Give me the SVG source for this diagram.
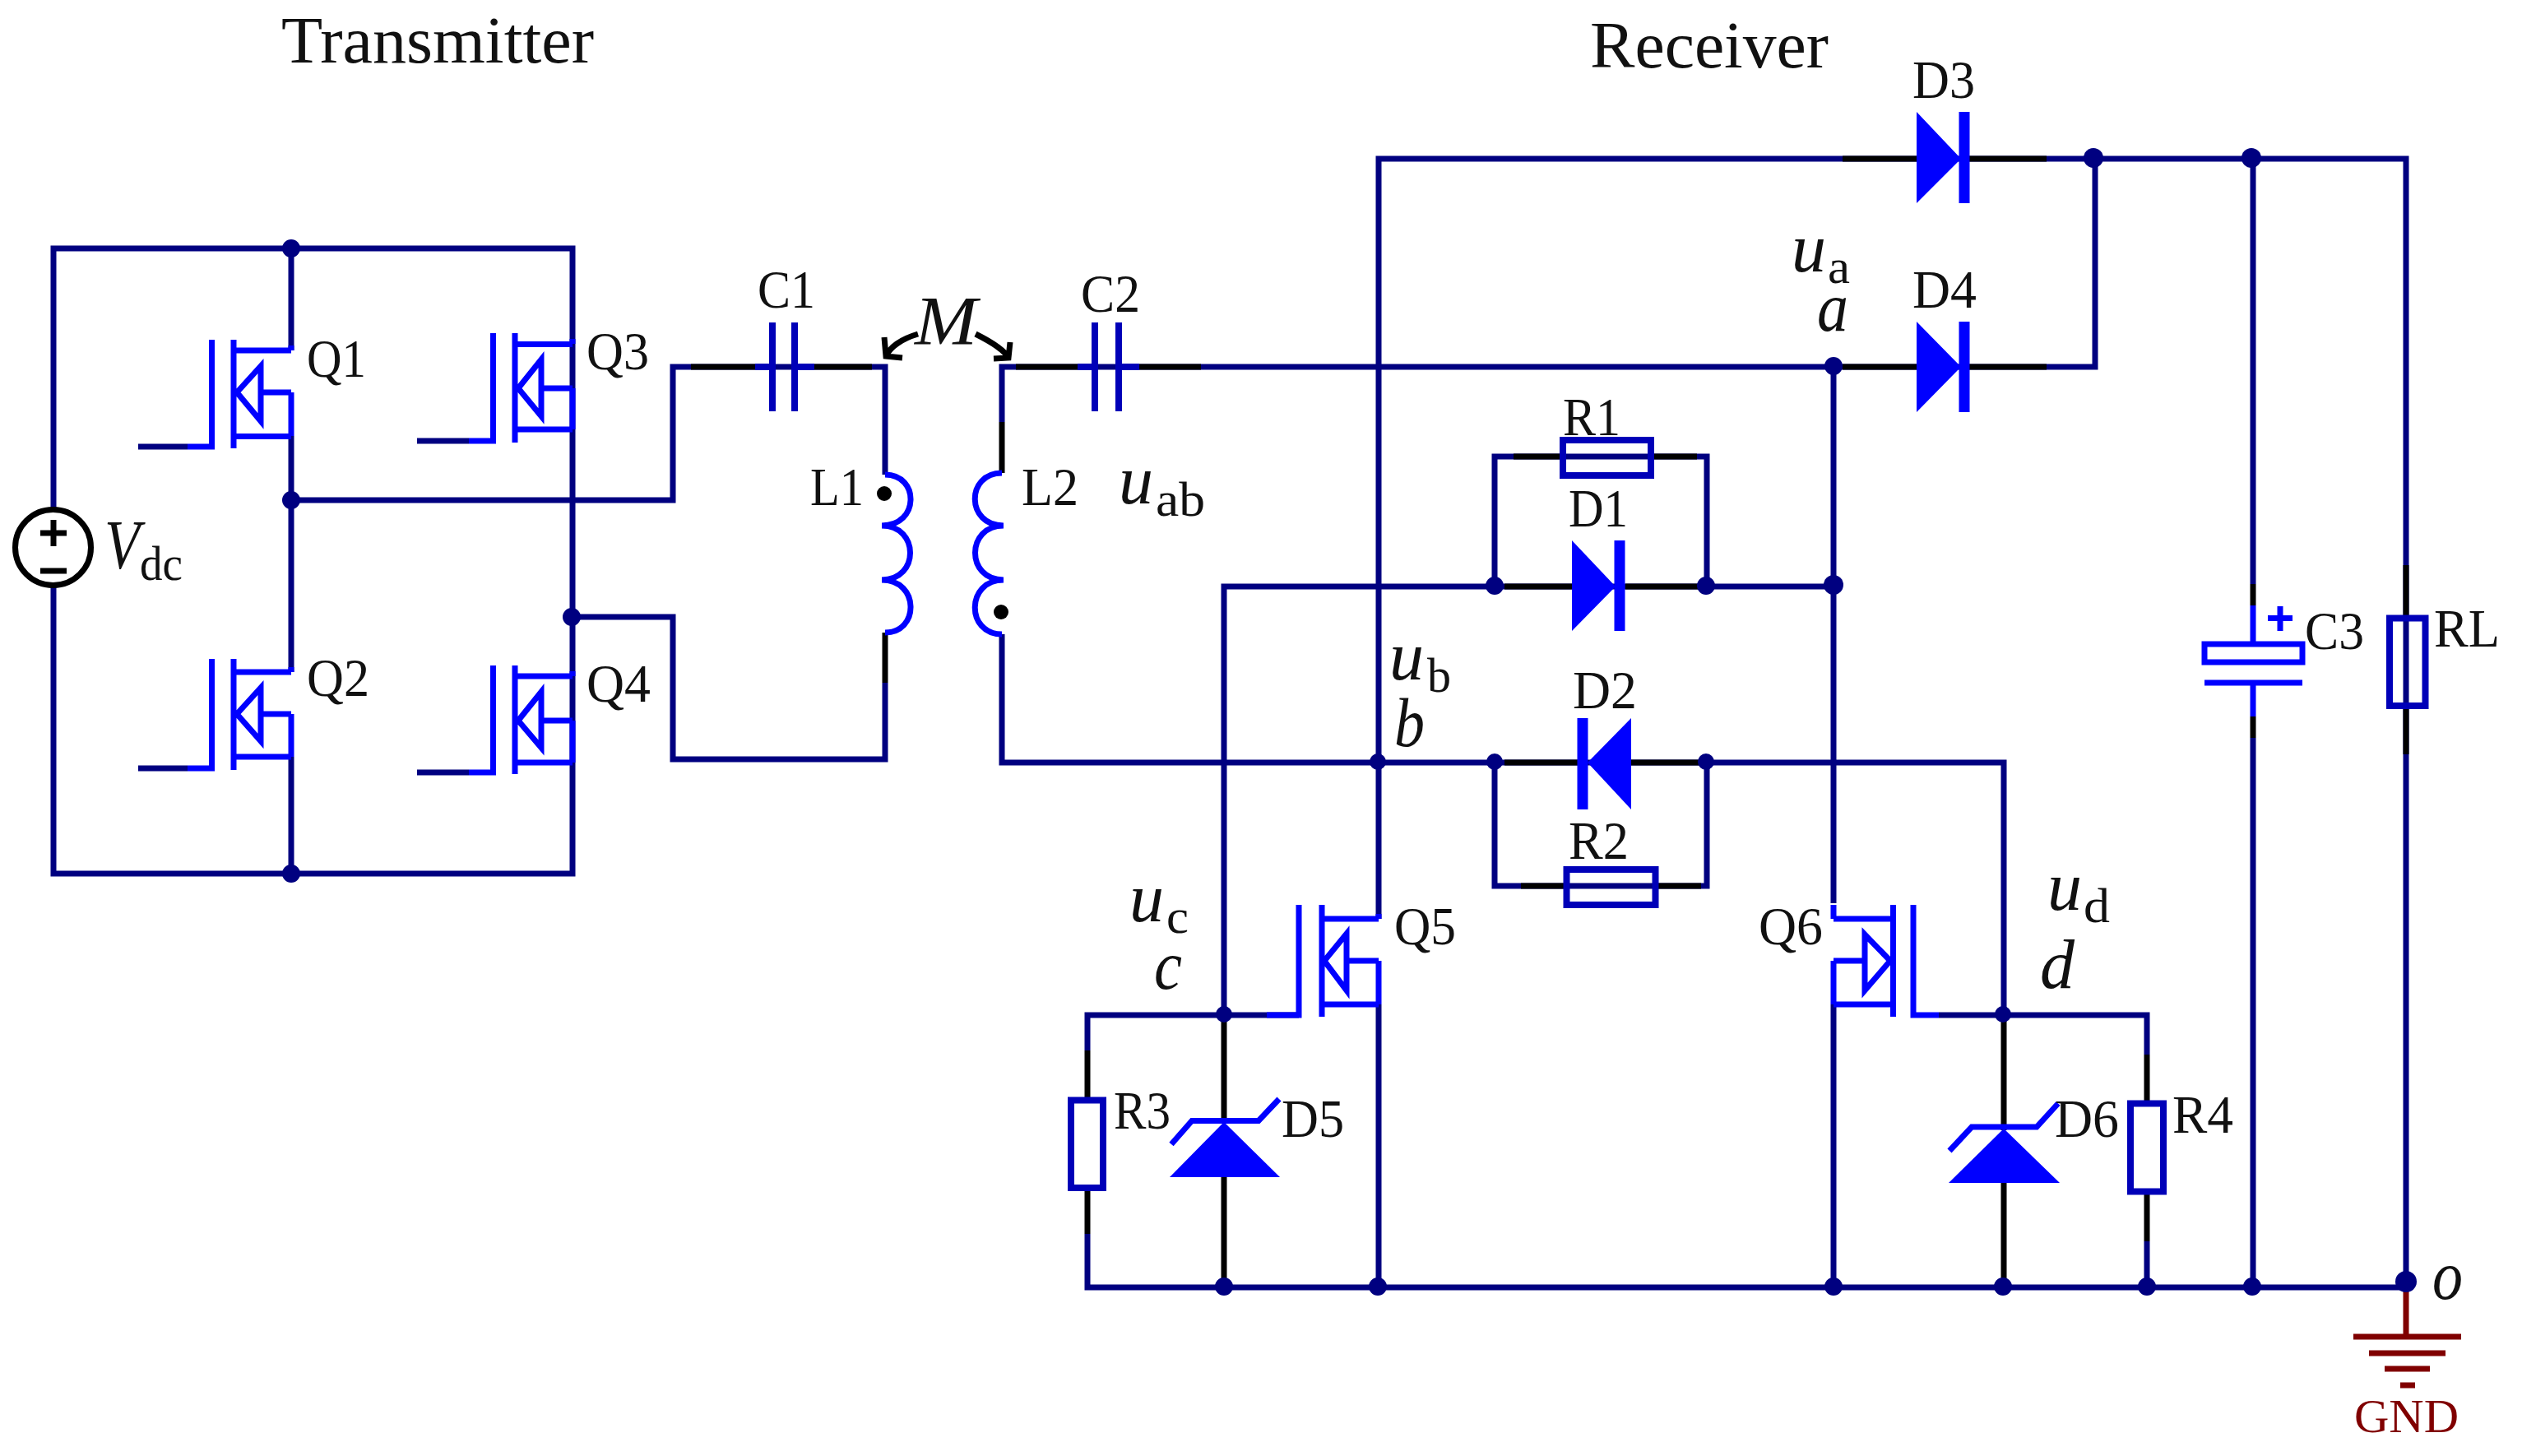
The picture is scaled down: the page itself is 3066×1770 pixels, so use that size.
<svg xmlns="http://www.w3.org/2000/svg" width="3066" height="1770" viewBox="0 0 3066 1770">
<style>
.w,.k,.b,.c,.r,.a{fill:none;stroke-width:7;stroke-linejoin:miter}
.w{stroke:#000080}
.k{stroke:#000}
.b{stroke:#0000ff}
.c{stroke:#0000b8;stroke-width:8}
.r{stroke:#800000;stroke-width:7}
.a{stroke:#000;stroke-width:7}
.df{fill:#0000ff;stroke:none}
.dt{fill:#000080;stroke:none}
.bar{stroke:#0000ff;stroke-width:13;fill:none}
text{font-family:"Liberation Serif","Times New Roman",serif;fill:#111}
.l{font-size:66px}
.h{font-size:81px}
.i{font-size:84px;font-style:italic}
.s{font-size:60px}
</style>
<g id="connectors">
<path class="w" d="M65 620V302H696V1062H65V712"/>
<path class="w" d="M354 302V426M354 530V817M354 920V1062"/>
<path class="w" d="M354 608H818V446H1076V577"/>
<path class="w" d="M696 750H818V923H1076V830"/>
<path class="k" d="M1076 769V830"/>
<path class="w" d="M1218 513V446H2229"/>
<path class="k" d="M1218 513V575"/>
<path class="w" d="M1218 771V927H2436V1234"/>
<path class="w" d="M1676 1117V193H2925V1565"/>
<path class="w" d="M2229 446V1098M2229 1221V1565"/>
<path class="w" d="M1488 1234V713H2229"/>
<path class="w" d="M1817 713V555H2075V713M1817 927V1077H2075V927"/>
<path class="w" d="M2229 446H2547V193"/>
<path class="w" d="M2739 193V710M2739 897V1565"/>
<path class="w" d="M1322 1277V1234H1579M2357 1234H2610V1282M1322 1500V1565H2925M2610 1509V1565"/>
<path class="w" d="M1676 1221V1565"/>
<path class="k" d="M840 446H918M990 446H1060M1235 446H1310M1385 446H1460"/>
<path class="k" d="M1829 713H1911M1976 713H2065M1829 927H1918M1983 927H2065M1840 555H1900M2007 555H2063M1849 1077H1904M2012 1077H2068"/>
<path class="k" d="M2240 193H2330M2394 193H2488M2240 446H2330M2394 446H2488"/>
<path class="k" d="M1488 1240V1366M1488 1431V1560M2436 1240V1374M2436 1438V1560"/>
<path class="k" d="M1322 1277V1337M1322 1444V1500M2610 1282V1341M2610 1448V1509"/>
<path class="k" d="M2739 710V736M2739 871V897M2925 687V751M2925 858V917"/>
<path class="c" d="M918 446H939M966 446H990M1310 446H1331M1360 446H1385"/>
<path class="a" d="M1116 406C1096 412 1082 422 1077 433M1075 410L1077 433L1097 435"/>
<path class="a" d="M1186 406C1202 414 1220 424 1226 435M1228 416L1226 435L1208 436"/>
<path class="r" d="M2925 1570V1625"/>
</g>
<g id="V1">
<circle cx="64.500" cy="665.500" r="46" fill="#fff" stroke="#000" stroke-width="7"/>
<path class="k" d="M49 648H81M65 632V664M49 694H81"/>
<text x="127" y="691" class="i" textLength="43" lengthAdjust="spacingAndGlyphs">V</text><text x="170" y="705" class="s" textLength="52" lengthAdjust="spacingAndGlyphs">dc</text>
</g>
<g id="Q1"><path class="b" d="M228 543H257.500V413M284 413V545M284 426H354M284 530.500H354M354 477H318M317 445V512L288 477ZM354 420V426M354 477V530"/><path class="w" d="M168 543H228"/><text x="373" y="458" class="l" textLength="72" lengthAdjust="spacingAndGlyphs">Q1</text></g>
<g id="Q2"><path class="b" d="M228 934H257.500V801M284 801V936M284 817H354M284 920H354M354 868H318M317 836V901L288 868ZM354 811V817M354 868V920"/><path class="w" d="M168 934H228"/><text x="373" y="846" class="l" textLength="76" lengthAdjust="spacingAndGlyphs">Q2</text></g>
<g id="Q3"><path class="b" d="M570 536H599.500V405M626 405V538M626 418.500H696M626 522H696M696 472H660M658 437V506L630 472ZM696 412V418M696 472V522"/><path class="w" d="M507 536H570"/><text x="713" y="449" class="l" textLength="76" lengthAdjust="spacingAndGlyphs">Q3</text></g>
<g id="Q4"><path class="b" d="M570 939H599.500V809M626 809V941M626 822H696M626 927H696M696 876H660M658 841V909L630 876ZM696 816V822M696 876V927"/><path class="w" d="M507 939H570"/><text x="713" y="853" class="l" textLength="78" lengthAdjust="spacingAndGlyphs">Q4</text></g>
<g id="C1"><path class="c" d="M939 392V500M966 392V500"/><text x="921" y="374" class="l" textLength="70" lengthAdjust="spacingAndGlyphs">C1</text></g>
<g id="C2"><path class="c" d="M1331 392V500M1360 392V500"/><text x="1314" y="379" class="l" textLength="72" lengthAdjust="spacingAndGlyphs">C2</text></g>
<g id="L1"><path class="b" style="stroke-width:7" d="M1076 577C1118 577 1118 639 1072 639C1118 639 1118 705 1072 705C1118 705 1118 769 1076 769"/><circle cx="1075" cy="600" r="9" fill="#000"/><text x="985" y="614" class="l" textLength="65" lengthAdjust="spacingAndGlyphs">L1</text></g>
<g id="L2"><path class="b" style="stroke-width:7" d="M1218 575C1174 575 1174 639 1220 639C1174 639 1174 705 1220 705C1174 705 1174 771 1218 771"/><circle cx="1217" cy="744" r="9" fill="#000"/><text x="1242" y="614" class="l" textLength="69" lengthAdjust="spacingAndGlyphs">L2</text></g>
<g id="M"><text x="1112" y="419" class="i" textLength="76" lengthAdjust="spacingAndGlyphs">M</text></g>
<g id="uab"><text x="1360" y="612" class="i" textLength="42" lengthAdjust="spacingAndGlyphs">u</text><text x="1405" y="627" class="s" textLength="60" lengthAdjust="spacingAndGlyphs">ab</text></g>
<g id="R1"><rect class="c" x="1900" y="535" width="107" height="43" fill="#fff"/><text x="1900" y="529" class="l" textLength="70" lengthAdjust="spacingAndGlyphs">R1</text></g>
<g id="R2"><rect class="c" x="1904.500" y="1057" width="108" height="43"/><text x="1907" y="1044" class="l" textLength="73" lengthAdjust="spacingAndGlyphs">R2</text></g>
<g id="D1"><path class="df" d="M1911 657V767L1964 713Z"/><path class="bar" d="M1969 657V767"/><text x="1907" y="640" class="l" textLength="72" lengthAdjust="spacingAndGlyphs">D1</text></g>
<g id="D2"><path class="df" d="M1983 873V984L1930 927Z"/><path class="bar" d="M1924 873V984"/><text x="1912" y="861" class="l" textLength="78" lengthAdjust="spacingAndGlyphs">D2</text></g>
<g id="D3"><path class="df" d="M2330 136V247L2384 193Z"/><path class="bar" d="M2388 136V247"/><text x="2325" y="119" class="l" textLength="76" lengthAdjust="spacingAndGlyphs">D3</text></g>
<g id="D4"><path class="df" d="M2330 391V501L2384 446Z"/><path class="bar" d="M2388 391V501"/><text x="2325" y="374" class="l" textLength="78" lengthAdjust="spacingAndGlyphs">D4</text></g>
<g id="C3"><path class="b" d="M2739 736V783M2739 830V871"/><rect class="b" x="2680" y="783" width="119" height="22"/><path class="b" d="M2680 830H2799M2757 751.500H2787M2772 737V767"/><text x="2802" y="789" class="l" textLength="72" lengthAdjust="spacingAndGlyphs">C3</text></g>
<g id="RL"><rect class="c" x="2905" y="751.500" width="43.500" height="106.500"/><text x="2959" y="786" class="l" textLength="80" lengthAdjust="spacingAndGlyphs">RL</text></g>
<g id="Q5"><path class="b" d="M1540 1234H1579V1100M1607 1100V1236M1607 1117H1676M1607 1221H1676M1676 1168H1640M1637 1135V1204L1610 1168ZM1676 1111V1117M1676 1168V1221"/><text x="1695" y="1148" class="l" textLength="75" lengthAdjust="spacingAndGlyphs">Q5</text></g>
<g id="Q6"><path class="b" d="M2357 1234H2326V1100M2301.500 1100V1236M2301.500 1117H2229M2301.500 1221H2229M2229 1168H2266M2267 1136V1204L2298 1168ZM2229 1100V1117M2229 1168V1221"/><text x="2138" y="1148" class="l" textLength="78" lengthAdjust="spacingAndGlyphs">Q6</text></g>
<g id="R3"><rect class="c" x="1302" y="1337.500" width="39" height="106.500"/><text x="1354" y="1372" class="l" textLength="69" lengthAdjust="spacingAndGlyphs">R3</text></g>
<g id="R4"><rect class="c" x="2590" y="1341.500" width="40" height="107"/><text x="2641" y="1377" class="l" textLength="74" lengthAdjust="spacingAndGlyphs">R4</text></g>
<g id="D5"><path class="df" d="M1488 1364L1422 1431H1556Z"/><path class="b" d="M1424 1391L1449 1362.500H1530L1555 1336"/><text x="1558" y="1382" class="l" textLength="76" lengthAdjust="spacingAndGlyphs">D5</text></g>
<g id="D6"><path class="df" d="M2436 1372L2369 1438H2504Z"/><path class="b" d="M2370 1399L2397 1370H2476L2502 1341.500"/><text x="2498" y="1382" class="l" textLength="78" lengthAdjust="spacingAndGlyphs">D6</text></g>
<g id="GND"><path class="r" d="M2861 1625H2992M2880 1645H2973M2899 1664H2954M2918 1684H2936"/><text x="2862" y="1741" style="font-size:56px;fill:#800000" textLength="127" lengthAdjust="spacingAndGlyphs">GND</text></g>
<g id="junctions">
<circle class="dt" cx="354" cy="302" r="11"/><circle class="dt" cx="354" cy="608" r="11"/><circle class="dt" cx="354" cy="1062" r="11"/><circle class="dt" cx="695" cy="750" r="11"/>
<circle class="dt" cx="2545" cy="192" r="12"/><circle class="dt" cx="2737" cy="192" r="12"/><circle class="dt" cx="2229" cy="445" r="11"/>
<circle class="dt" cx="1817" cy="712" r="11"/><circle class="dt" cx="2074" cy="712" r="11"/><circle class="dt" cx="2229" cy="711" r="12"/>
<circle class="dt" cx="1675" cy="926" r="10"/><circle class="dt" cx="1817" cy="926" r="10"/><circle class="dt" cx="2074" cy="926" r="10"/>
<circle class="dt" cx="1488" cy="1233" r="10"/><circle class="dt" cx="2435" cy="1233" r="10"/>
<circle class="dt" cx="1488" cy="1564" r="11"/><circle class="dt" cx="1675" cy="1564" r="11"/><circle class="dt" cx="2229" cy="1564" r="11"/><circle class="dt" cx="2435" cy="1564" r="11"/><circle class="dt" cx="2610" cy="1564" r="11"/><circle class="dt" cx="2738" cy="1564" r="11"/><circle class="dt" cx="2925" cy="1558" r="13"/>
</g>
<g id="labels">
<text x="342" y="76" class="h" textLength="380" lengthAdjust="spacingAndGlyphs">Transmitter</text>
<text x="1933" y="82" class="h" textLength="290" lengthAdjust="spacingAndGlyphs">Receiver</text>
<text x="2178" y="330" class="i" textLength="42" lengthAdjust="spacingAndGlyphs">u</text><text x="2222" y="344" class="s" textLength="27" lengthAdjust="spacingAndGlyphs">a</text>
<text x="2209" y="402" class="i" textLength="38" lengthAdjust="spacingAndGlyphs">a</text>
<text x="1689" y="826" class="i" textLength="42" lengthAdjust="spacingAndGlyphs">u</text><text x="1735" y="841" class="s" textLength="29" lengthAdjust="spacingAndGlyphs">b</text>
<text x="1695" y="907" class="i" textLength="37" lengthAdjust="spacingAndGlyphs">b</text>
<text x="1373" y="1120" class="i" textLength="42" lengthAdjust="spacingAndGlyphs">u</text><text x="1418" y="1134" class="s" textLength="27" lengthAdjust="spacingAndGlyphs">c</text>
<text x="1403" y="1202" class="i" textLength="34" lengthAdjust="spacingAndGlyphs">c</text>
<text x="2489" y="1106" class="i" textLength="42" lengthAdjust="spacingAndGlyphs">u</text><text x="2533" y="1121" class="s" textLength="32" lengthAdjust="spacingAndGlyphs">d</text>
<text x="2480" y="1201" class="i" textLength="42" lengthAdjust="spacingAndGlyphs">d</text>
<text x="2957" y="1579" class="i" textLength="37" lengthAdjust="spacingAndGlyphs">o</text>
</g>
</svg>
